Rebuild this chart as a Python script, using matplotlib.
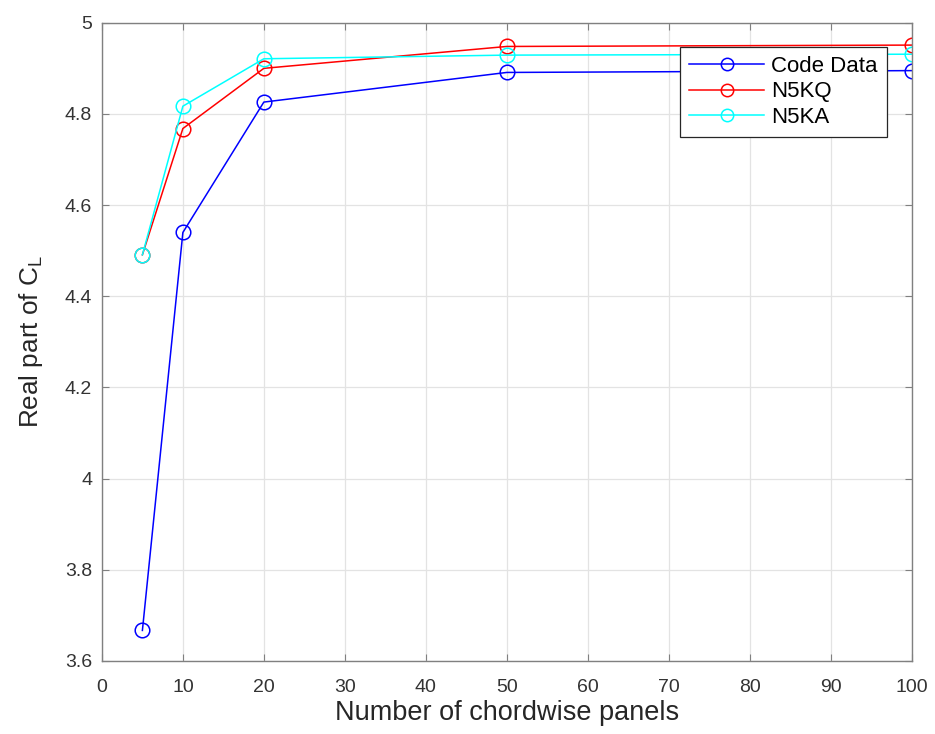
import numpy as np
import matplotlib
matplotlib.use('Agg')
import matplotlib.pyplot as plt
from matplotlib.ticker import FormatStrFormatter

plt.rcParams['font.family'] = ['Liberation Sans', 'DejaVu Sans']
plt.rcParams['mathtext.fontset'] = 'custom'
plt.rcParams['mathtext.rm'] = 'Liberation Sans'
plt.rcParams['mathtext.it'] = 'Liberation Sans'

panels = [5, 10, 20, 50, 100]
code_data = [3.667, 4.540, 4.826, 4.891, 4.895]
n5kq = [4.491, 4.768, 4.900, 4.948, 4.951]
n5ka = [4.491, 4.817, 4.921, 4.929, 4.931]

fig = plt.figure(figsize=(9.35, 7.34), dpi=100)
ax = fig.add_axes([0.109, 0.0995, 0.866, 0.8695])

ax.plot(panels, code_data, color='#0000ff', marker='o', mfc='none', ms=10.5, lw=1.1, mew=1.1, label='Code Data')
ax.plot(panels, n5kq, color='#ff0000', marker='o', mfc='none', ms=10.5, lw=1.1, mew=1.1, label='N5KQ')
ax.plot(panels, n5ka, color='#00ffff', marker='o', mfc='none', ms=10.5, lw=1.1, mew=1.1, label='N5KA')

ax.set_xlim(0, 100)
ax.set_ylim(3.6, 5)
ax.set_xticks(np.arange(0, 101, 10))
ax.set_yticks(np.arange(3.6, 5.01, 0.2))
ax.yaxis.set_major_formatter(FormatStrFormatter('%g'))
ax.grid(True, color='#e3e3e3', lw=0.9)
ax.set_axisbelow(True)
for s in ax.spines.values():
    s.set_color('#808080')
    s.set_linewidth(1.0)
ax.tick_params(direction='in', colors='#333333', labelsize=14, length=5,
               top=True, right=True, color='#808080')
ax.tick_params(axis='x', pad=13)
ax.tick_params(axis='y', pad=7)
ax.set_xlabel('Number of chordwise panels', fontsize=19.5, color='#262626', labelpad=3)
ax.set_ylabel('Real part of C$_\\mathrm{L}$', fontsize=18.8, color='#262626', labelpad=14)

leg = ax.legend(loc='upper right', bbox_to_anchor=(0.969, 0.962), borderaxespad=0,
                fontsize=16, fancybox=False, framealpha=1, edgecolor='#262626',
                handlelength=3.4, handletextpad=0.3, borderpad=0.4, labelspacing=0.2,
                markerscale=0.85)
leg.get_frame().set_linewidth(0.9)

plt.savefig('out.png', dpi=100)
